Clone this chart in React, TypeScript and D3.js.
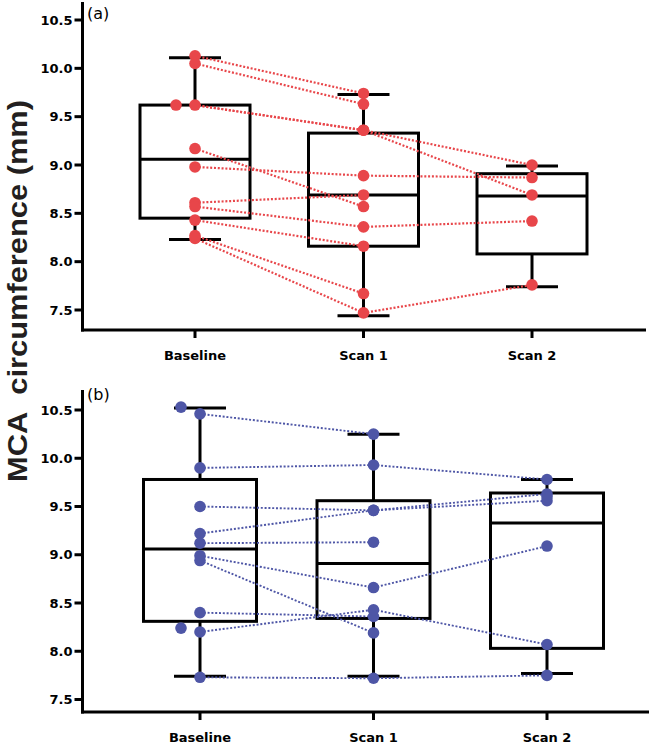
import React, { useEffect, useRef } from 'react';
import * as d3 from 'd3';

// Time points shared by both panels, and the y tick values.
const categories = ['Baseline', 'Scan 1', 'Scan 2'];
const yTicks = [7.5, 8.0, 8.5, 9.0, 9.5, 10.0, 10.5];

// Panel (a): one entry per subject, null where the scan is missing.
const redBaseline = [10.13, 10.05, 9.62, 9.62, 9.17, 8.98, 8.61, 8.57, 8.43, 8.27, 8.24];
const redScan1 = [9.74, 9.63, 9.36, 9.36, 8.57, 8.89, 8.69, 8.36, 8.16, 7.67, 7.47];
const redScan2 = [null, null, 9.0, 8.69, null, 8.87, null, 8.42, null, null, 7.76];
const redDodged = [2]; // subjects drawn beside the column (overlapping values)

// Panel (a) box plots: min, Q1, median, Q3, max per time point.
const redMin = [8.23, 7.44, 7.74];
const redQ1 = [8.45, 8.16, 8.08];
const redMedian = [9.06, 8.69, 8.68];
const redQ3 = [9.62, 9.33, 8.91];
const redMax = [10.11, 9.73, 8.99];

// Panel (b)
const blueBaseline = [10.53, 10.46, 9.9, 9.5, 9.22, 9.12, 8.99, 8.94, 8.4, 8.24, 8.2, 7.73, null];
const blueScan1 = [null, 10.25, 9.93, 9.46, 9.46, 9.13, 8.66, 8.19, 8.36, null, 8.43, 7.72, null];
const blueScan2 = [null, null, 9.78, 9.63, 9.56, null, 9.09, null, null, null, 8.07, 7.75, 9.6];
const blueDodged = [0, 9];

const blueMin = [7.74, 7.74, 7.77];
const blueQ1 = [8.31, 8.34, 8.03];
const blueMedian = [9.06, 8.91, 9.33];
const blueQ3 = [9.78, 9.56, 9.64];
const blueMax = [10.52, 10.25, 9.78];

const FONT = '"DejaVu Sans", sans-serif';

const App = () => {
  const svgRef = useRef<SVGSVGElement>(null);

  useEffect(() => {
    const svg = d3.select(svgRef.current);
    svg.selectAll('*').remove();

    const width = 652;
    const height = 743;
    svg.attr('width', width).attr('height', height);

    const axisX = 82.5;

    const panels = [
      {
        label: '(a)',
        labelY: 19,
        top: 2,
        bottom: 330,
        yRange: [310, 20],
        xRange: [195, 532],
        right: 646,
        boxWidth: 110,
        color: '#E8464A',
        lineWidth: 2.2,
        series: [redBaseline, redScan1, redScan2],
        dodged: redDodged,
        stats: { min: redMin, q1: redQ1, med: redMedian, q3: redQ3, max: redMax },
      },
      {
        label: '(b)',
        labelY: 400,
        top: 390,
        bottom: 712,
        yRange: [699.5, 410],
        xRange: [200, 547],
        right: 649,
        boxWidth: 113,
        color: '#4E56A6',
        lineWidth: 1.9,
        series: [blueBaseline, blueScan1, blueScan2],
        dodged: blueDodged,
        stats: { min: blueMin, q1: blueQ1, med: blueMedian, q3: blueQ3, max: blueMax },
      },
    ];

    panels.forEach((p) => {
      const g = svg.append('g');

      const y = d3.scaleLinear().domain([7.5, 10.5]).range(p.yRange);
      const x = d3.scalePoint<string>().domain(categories).range(p.xRange);

      // axes
      g.append('line')
        .attr('x1', axisX).attr('x2', axisX)
        .attr('y1', p.top).attr('y2', p.bottom + 1.5)
        .attr('stroke', '#000').attr('stroke-width', 3);
      g.append('line')
        .attr('x1', axisX - 1.5).attr('x2', p.right)
        .attr('y1', p.bottom).attr('y2', p.bottom)
        .attr('stroke', '#000').attr('stroke-width', 3);

      yTicks.forEach((t) => {
        g.append('line')
          .attr('x1', axisX - 8).attr('x2', axisX)
          .attr('y1', y(t)).attr('y2', y(t))
          .attr('stroke', '#000').attr('stroke-width', 3);
        g.append('text')
          .attr('x', axisX - 10)
          .attr('y', y(t) + 4.7)
          .attr('text-anchor', 'end')
          .style('font-family', FONT)
          .style('font-weight', 'bold')
          .style('font-size', '13px')
          .text(d3.format('.1f')(t));
      });

      categories.forEach((c) => {
        g.append('line')
          .attr('x1', x(c)!).attr('x2', x(c)!)
          .attr('y1', p.bottom).attr('y2', p.bottom + 8)
          .attr('stroke', '#000').attr('stroke-width', 3);
        g.append('text')
          .attr('x', x(c)!)
          .attr('y', p.bottom + 29.5)
          .attr('text-anchor', 'middle')
          .style('font-family', FONT)
          .style('font-weight', 'bold')
          .style('font-size', '13px')
          .text(c);
      });

      g.append('text')
        .attr('x', 87)
        .attr('y', p.labelY)
        .style('font-family', FONT)
        .style('font-size', '16px')
        .text(p.label);

      // box plots
      categories.forEach((c, i) => {
        const cx = x(c)!;
        const s = p.stats;
        const bw = p.boxWidth;
        const capW = 52;
        const stroke = (sel: any) => sel.attr('stroke', '#000').attr('stroke-width', 3).attr('fill', 'none');
        g.append('line').attr('x1', cx).attr('x2', cx).attr('y1', y(s.q3[i])).attr('y2', y(s.max[i])).call(stroke);
        g.append('line').attr('x1', cx).attr('x2', cx).attr('y1', y(s.q1[i])).attr('y2', y(s.min[i])).call(stroke);
        g.append('line').attr('x1', cx - capW / 2).attr('x2', cx + capW / 2).attr('y1', y(s.max[i])).attr('y2', y(s.max[i])).call(stroke);
        g.append('line').attr('x1', cx - capW / 2).attr('x2', cx + capW / 2).attr('y1', y(s.min[i])).attr('y2', y(s.min[i])).call(stroke);
        g.append('rect')
          .attr('x', cx - bw / 2)
          .attr('y', y(s.q3[i]))
          .attr('width', bw)
          .attr('height', y(s.q1[i]) - y(s.q3[i]))
          .call(stroke);
        g.append('line').attr('x1', cx - bw / 2).attr('x2', cx + bw / 2).attr('y1', y(s.med[i])).attr('y2', y(s.med[i])).call(stroke);
      });

      // subject lines between consecutive scans
      const n = p.series[0].length;
      for (let k = 0; k < n; k++) {
        for (let i = 0; i < categories.length - 1; i++) {
          const a = p.series[i][k];
          const b = p.series[i + 1][k];
          if (a == null || b == null) continue;
          g.append('line')
            .attr('x1', x(categories[i])!).attr('y1', y(a))
            .attr('x2', x(categories[i + 1])!).attr('y2', y(b))
            .attr('stroke', p.color)
            .attr('stroke-width', p.lineWidth)
            .attr('stroke-dasharray', '2,1.8');
        }
      }

      // points
      categories.forEach((c, i) => {
        p.series[i].forEach((v, k) => {
          if (v == null) return;
          const shift = i === 0 && p.dodged.includes(k) ? -19 : 0;
          g.append('circle')
            .attr('cx', x(c)! + shift)
            .attr('cy', y(v))
            .attr('r', 5.8)
            .attr('fill', p.color);
        });
      });
    });

    // shared y label
    svg.append('text')
      .attr('transform', 'translate(27,291) rotate(-90)')
      .attr('text-anchor', 'middle')
      .attr('textLength', 382)
      .attr('lengthAdjust', 'spacingAndGlyphs')
      .style('font-family', '"Liberation Sans", Arial, sans-serif')
      .style('font-weight', 'bold')
      .style('font-size', '27px')
      .style('fill', '#231F20')
      .text('MCA\u00a0\u00a0circumference (mm)');
  }, []);

  return (
    <div style={{ position: 'absolute', left: 0, top: 0 }}>
      <svg ref={svgRef}></svg>
    </div>
  );
};

export default App;
